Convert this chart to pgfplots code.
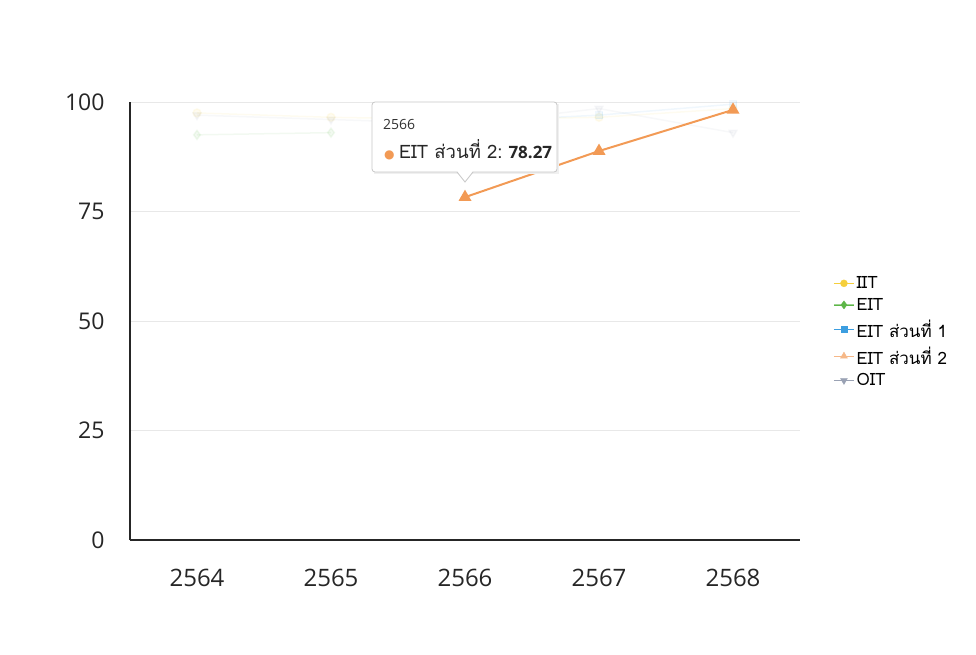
\documentclass[border=0pt]{standalone}
\usepackage{pgfplots}
\pgfplotsset{compat=1.18}
\usepackage{fontspec}
\setmainfont{Open Sans}
\newfontfamily\thaifont[Script=Thai]{Loma}
\newfontfamily\symfont{DejaVu Sans}

\definecolor{cIIT}{HTML}{F5CF3C}
\definecolor{cEIT}{HTML}{5DB648}
\definecolor{cEITa}{HTML}{3C9EE0}
\definecolor{cEITb}{HTML}{F29A55}
\definecolor{cOIT}{HTML}{9AA2B4}
\definecolor{gridc}{HTML}{E8E8E8}

\begin{document}
\begin{tikzpicture}[x=1pt,y=1pt]
\path (0,0) rectangle (976,654);
\begin{axis}[
    at={(130pt,114pt)}, anchor=south west,
    scale only axis,
    width=670pt, height=438pt,
    xmin=2563.5, xmax=2568.5,
    ymin=0, ymax=100,
    xtick={2564,2565,2566,2567,2568},
    ytick={0,25,50,75,100},
    axis x line*=bottom, axis y line*=left,
    axis line style={black!85, line width=1.3pt, -},
    major tick length=0pt,
    ymajorgrids=true,
    grid style={gridc, line width=0.8pt},
    /pgf/number format/1000 sep={},
    /pgf/number format/assume math mode=true,
    xticklabel style={font=\fontsize{24}{24}\selectfont, text=black!85, yshift=-26pt},
    yticklabel style={font=\fontsize{23}{23}\selectfont, text=black!85, xshift=-22pt},
    clip=false,
    legend style={at={(1.045,0.475)}, anchor=west, draw=none, fill=none,
        font=\thaifont\fontsize{17}{17}\selectfont, row sep=4pt,
        legend cell align=left},
    legend image code/.code={
        \draw[#1, line width=1.2pt, opacity=0.6] (0pt,0pt) -- (20pt,0pt);
        \draw[#1, mark repeat=2, mark phase=2] plot coordinates {(0pt,0pt) (10pt,0pt) (20pt,0pt)};
    },
    legend entries={IIT, EIT, EIT ส่วนที่ 1, EIT ส่วนที่ 2, OIT},
]
% faded series (not hovered)
\addplot[forget plot, cIIT, opacity=0.08, line width=1.5pt, mark=*, mark size=4pt]
    coordinates {(2564,97.5) (2565,96.5) (2566,96.0) (2567,96.5) (2568,98.5)};
\addplot[forget plot, cEIT, opacity=0.08, line width=1.5pt, mark=diamond*, mark size=4.5pt]
    coordinates {(2564,92.5) (2565,93.0)};
\addplot[forget plot, cEITa, opacity=0.08, line width=1.5pt, mark=square*, mark size=3.5pt]
    coordinates {(2566,95.5) (2567,97.0) (2568,99.5)};
\addplot[forget plot, cOIT, opacity=0.08, line width=1.5pt, mark=triangle*, mark size=4.5pt,
    mark options={rotate=180}]
    coordinates {(2564,97.0) (2565,96.0) (2566,95.0) (2567,98.5) (2568,93.0)};
% hovered series
\addplot[forget plot, cEITb, line width=2pt, mark=triangle*, mark size=5.5pt]
    coordinates {(2566,78.27) (2567,88.8) (2568,98.2)};
% legend images
\addlegendimage{cIIT, mark=*, mark size=3.5pt}
\addlegendimage{cEIT, mark=diamond*, mark size=4pt}
\addlegendimage{cEITa, mark=square*, mark size=3pt}
\addlegendimage{cEITb!70, mark=triangle*, mark size=4pt}
\addlegendimage{cOIT, mark=triangle*, mark size=4pt, mark options={rotate=180}}
\end{axis}
% tooltip
\fill[black!6] (374,480) rectangle (559,550);
\draw[black!22, fill=white, rounded corners=3pt, line width=0.8pt]
    (372,482) rectangle (557,552);
\fill[white] (457,483) -- (465,472) -- (473,483) -- cycle;
\draw[black!22, line width=0.8pt] (457,482) -- (465,472) -- (473,482);
\node[anchor=base west, inner sep=0pt, font=\fontsize{14}{14}\selectfont, text=black!80]
    at (383,524) {2566};
\node[anchor=base west, inner sep=0pt, font=\fontsize{17}{17}\selectfont, text=black!85]
    at (384,495) {\textcolor{cEITb}{\symfont\fontsize{12}{12}\selectfont ●}\ {\thaifont\fontsize{18.5}{18.5}\selectfont EIT ส่วนที่ 2:} \textbf{78.27}};
\end{tikzpicture}
\end{document}
